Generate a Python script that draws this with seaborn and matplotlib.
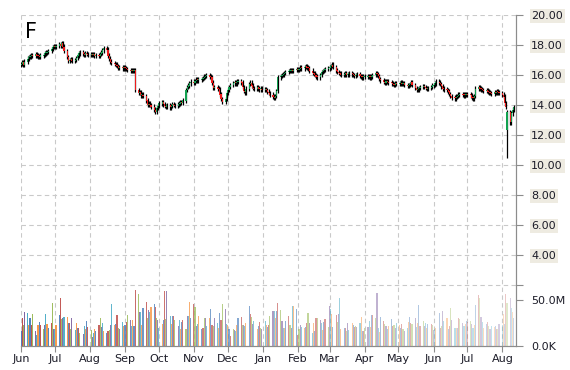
import numpy as np
import pandas as pd
import matplotlib
matplotlib.use("Agg")
import matplotlib.pyplot as plt
import matplotlib.dates as mdates
import seaborn as sns

# daily closes, one row per month (Jun 2010 .. Aug 2011)
close = [
    16.75, 16.85, 16.7, 16.9, 17.1, 17.2, 17.25, 17.35, 17.3, 17.4, 17.3, 17.25, 17.2, 17.3, 17.35, 17.45, 17.5, 17.55, 17.6, 17.75, 17.85, 17.9,
    17.85, 17.95, 18.05, 17.95, 18.1, 17.9, 17.6, 17.2, 16.95, 17.0, 17.05, 16.95, 17.0, 17.15, 17.3, 17.45, 17.5, 17.4, 17.35, 17.45, 17.4, 17.35,
    17.4, 17.35, 17.4, 17.3, 17.35, 17.3, 17.4, 17.5, 17.65, 17.8, 17.7, 17.3, 17.1, 16.9, 16.8, 16.75, 16.7, 16.6, 16.5, 16.55, 16.45, 16.5,
    16.45, 16.4, 16.35, 16.3, 16.35, 16.3, 16.3, 15.0, 14.8, 14.85, 14.65, 14.7, 14.6, 14.3, 14.0, 14.1, 14.0, 13.9, 13.7, 13.55, 13.8, 13.95,
    14.1, 14.2, 14.05, 13.95, 13.9, 14.0, 13.85, 13.95, 14.05, 14.0, 13.95, 14.05, 14.1, 14.2, 14.15, 14.3, 15.0, 15.2, 15.3, 15.45, 15.55,
    15.5, 15.6, 15.7, 15.65, 15.7, 15.75, 15.8, 15.9, 15.95, 16.0, 15.9, 15.85, 15.5, 15.15, 15.2, 15.1, 15.05, 14.7, 14.4, 14.2, 14.4, 14.8,
    15.0, 15.2, 15.35, 15.45, 15.5, 15.45, 15.55, 15.6, 15.5, 15.2, 14.95, 14.85, 15.1, 15.4, 15.5, 15.3, 15.15, 15.1, 15.2, 15.1, 15.05, 15.1, 15.0,
    15.07, 15.0, 14.9, 14.8, 14.7, 14.55, 14.5, 14.6, 14.95, 15.85, 15.95, 16.0, 16.05, 16.15, 16.2, 16.25, 16.3, 16.35, 16.3, 16.35, 16.4,
    16.35, 16.4, 16.5, 16.45, 16.55, 16.6, 16.5, 16.45, 16.3, 16.15, 16.1, 16.0, 15.9, 15.85, 16.0, 16.2, 16.25, 16.35, 16.4, 16.45,
    16.5, 16.6, 16.7, 16.55, 16.3, 16.2, 16.15, 16.1, 16.0, 16.05, 16.1, 16.0, 16.05, 16.1, 16.05, 16.0, 15.95, 16.0, 16.05, 15.95, 15.9, 15.85, 15.9,
    15.9, 15.95, 15.9, 15.85, 15.9, 16.0, 16.1, 16.05, 15.95, 15.75, 15.65, 15.55, 15.5, 15.6, 15.55, 15.5, 15.45, 15.4, 15.35, 15.45, 15.4,
    15.45, 15.5, 15.4, 15.45, 15.35, 15.3, 15.35, 15.4, 15.5, 15.35, 15.15, 15.0, 15.05, 15.15, 15.2, 15.25, 15.2, 15.15, 15.1, 15.15, 15.2, 15.3,
    15.35, 15.45, 15.55, 15.5, 15.4, 15.25, 15.1, 15.05, 15.0, 14.9, 14.75, 14.6, 14.5, 14.45, 14.55, 14.6, 14.7, 14.75, 14.7, 14.65, 14.7, 14.75,
    14.7, 14.65, 14.5, 14.45, 14.6, 15.1, 15.2, 15.1, 15.05, 15.0, 14.95, 15.0, 14.9, 14.85, 14.8, 14.75, 14.85, 14.8, 14.9, 14.85, 14.8,
    14.7, 14.55, 14.15, 13.9, 13.5, 12.85, 13.45, 13.7, 13.85,
]

# volume in millions, same layout
volume = [
    16, 30, 23, 37, 36, 23, 30, 23, 35, 16, 12, 23, 26, 23, 19, 23, 35, 24, 20, 25, 47, 18,
    19, 23, 34, 52, 29, 30, 32, 32, 25, 25, 19, 30, 17, 25, 20, 20, 14, 13, 22, 18, 27, 21,
    17, 10, 14, 19, 16, 23, 30, 21, 25, 16, 14, 16, 17, 23, 46, 23, 24, 34, 20, 19, 26, 22,
    23, 26, 34, 28, 22, 28, 22, 61, 56, 37, 37, 23, 41, 48, 30, 39, 37, 42, 46, 42, 30, 28,
    20, 24, 28, 60, 29, 60, 33, 24, 33, 33, 28, 22, 28, 19, 26, 28, 19, 33, 33, 48, 30,
    46, 42, 22, 24, 33, 18, 20, 30, 30, 22, 30, 40, 23, 22, 30, 25, 20, 36, 28, 46, 40, 24,
    23, 19, 11, 19, 17, 16, 23, 30, 32, 23, 23, 22, 25, 44, 35, 32, 24, 27, 19, 22, 26, 20, 18,
    27, 23, 21, 23, 33, 38, 38, 30, 38, 47, 39, 27, 20, 20, 27, 33, 23, 20, 43, 44, 40,
    12, 19, 23, 21, 20, 21, 25, 36, 25, 14, 25, 16, 30, 30, 28, 25, 17, 26, 29, 21,
    43, 40, 35, 21, 34, 26, 35, 52, 19, 20, 20, 16, 25, 17, 25, 23, 21, 22, 21, 25, 32, 16, 16,
    20, 21, 27, 21, 34, 34, 30, 58, 20, 15, 32, 27, 24, 22, 18, 22, 29, 22, 23, 20, 25,
    23, 20, 24, 19, 16, 20, 26, 32, 25, 24, 30, 21, 25, 45, 22, 27, 22, 25, 20, 24, 24, 23,
    17, 19, 20, 36, 20, 22, 38, 27, 30, 18, 22, 41, 28, 20, 20, 20, 30, 29, 25, 22, 24, 27,
    26, 27, 24, 20, 23, 45, 55, 52, 31, 26, 20, 24, 26, 22, 18, 22, 21, 22, 18, 18, 24,
    23, 35, 24, 56, 47, 52, 41, 37, 30,
]

first_open = 16.7
gap_opens = {"2011-08-05": 12.35}
spike_lows = {"2011-08-05": 10.45}
wick = 0.15

price_ticks = [2, 4, 6, 8, 10, 12, 14, 16, 18, 20]
price_labels = [""] + ["%.2f" % v for v in price_ticks[1:]]
vol_ticks = [0, 50]
vol_labels = ["0.0K", "50.0M"]
ticker = "F"

palette = ["#4F81BD", "#C0504D", "#9BBB59", "#8064A2", "#4BACC6", "#F79646"]

n = min(len(close), len(volume))
dates = pd.bdate_range("2010-06-01", periods=n)
df = pd.DataFrame({"date": dates, "close": close[:n], "volume": volume[:n]})
df["open"] = df["close"].shift(1).fillna(first_open)
for d, v in gap_opens.items():
    df.loc[df.date == pd.Timestamp(d), "open"] = v
df["high"] = df[["open", "close"]].max(axis=1) + wick
df["low"] = df[["open", "close"]].min(axis=1) - wick
for d, v in spike_lows.items():
    df.loc[df.date == pd.Timestamp(d), "low"] = v

sns.set_style("white")
plt.rcParams["font.family"] = ["DejaVu Sans"]

fig = plt.figure(figsize=(5.7, 3.7), dpi=100)
ax = fig.add_axes([21 / 570, 1 - 346 / 370, 495 / 570, 331 / 370])
ax2 = ax.twinx()

x = mdates.date2num(df["date"])
up = df["close"] >= df["open"]
body_col = np.where(up, "#12a150", "#ee1c1c")
bottom = df[["open", "close"]].min(axis=1)
height = (df["close"] - df["open"]).abs().clip(lower=0.05)

ax.vlines(x, df["low"], df["high"], color="black", lw=0.9, zorder=3)
ax.bar(x, height, bottom=bottom, width=1.0, color=body_col, linewidth=0, zorder=4)

alphas = np.linspace(1.0, 0.3, n)
vcols = [matplotlib.colors.to_rgba(palette[i % len(palette)], alphas[i]) for i in range(n)]
ax2.bar(x, df["volume"], width=1.0, color=vcols, linewidth=0)

ax.set_xlim(mdates.date2num(pd.Timestamp("2010-06-01")), mdates.date2num(pd.Timestamp("2011-08-13")))
ax.set_ylim(20 - 331 / 15, 20)
ax2.set_ylim(0, 50 * 331 / 46)

ax.xaxis.set_major_locator(mdates.MonthLocator())
ax.xaxis.set_major_formatter(mdates.DateFormatter("%b"))
ax.set_yticks(price_ticks)
ax.set_yticklabels(price_labels)
ax2.set_yticks(vol_ticks)
ax2.set_yticklabels(vol_labels)

ax.grid(True, color="#c9c9c9", linestyle=(0, (4, 3)), lw=0.8)
ax.set_axisbelow(True)
ax2.grid(False)

for a in (ax, ax2):
    for s in ("left", "top"):
        a.spines[s].set_visible(False)
    a.spines["right"].set_color("#8c8c8c")
    a.spines["bottom"].set_color("#8c8c8c")
    a.yaxis.set_ticks_position("right")
    a.tick_params(axis="y", right=True, left=False, labelright=True, labelleft=False,
                  length=5, color="#8c8c8c", pad=6, labelsize=8, labelcolor="#1c1c28")
ax.tick_params(axis="x", bottom=True, length=4, color="#8c8c8c", pad=2, labelsize=8, labelcolor="#1c1c28")

for lab in ax.get_yticklabels() + ax2.get_yticklabels():
    if lab.get_text() and lab.get_text()[-1] != "M" and lab.get_text()[-1] != "K":
        lab.set_bbox(dict(facecolor="#EEEBE1", edgecolor="none", pad=1.2))

ax.text(0.008, 0.978, ticker, transform=ax.transAxes, va="top", ha="left", fontsize=15, color="black")

fig.savefig("out.png", dpi=100)
